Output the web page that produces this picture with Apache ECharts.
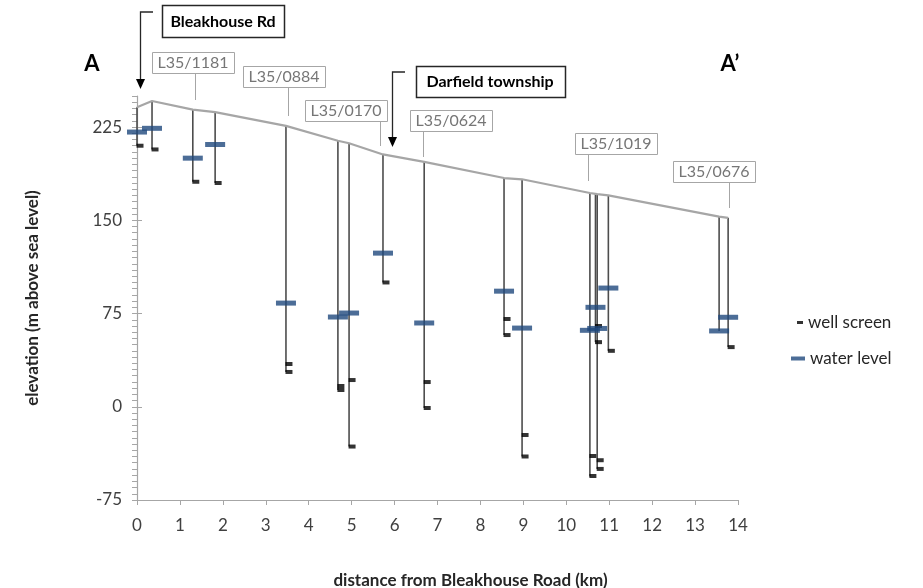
<!DOCTYPE html>
<html>
<head>
<meta charset="utf-8">
<script src="https://cdn.jsdelivr.net/npm/echarts@6/dist/echarts.min.js"></script>
<style>
  html, body { margin: 0; padding: 0; background: #fff; }
  #chart { width: 923px; height: 588px; }
</style>
</head>
<body>
<div id="chart"></div>
<script>
// ground surface along the section (km, m asl)
const surfaceX = [0, 0.35, 1.3, 1.82, 3.47, 4.68, 4.94, 5.73, 6.69, 8.55, 8.97, 10.55, 10.72, 10.98, 13.56, 13.77];
const surfaceElev = [241, 246, 239, 237, 226, 214, 212, 203, 197, 184, 183, 172, 171, 170, 153, 152];

// wells: position, top (ground) and bottom elevation
const wellX = [0, 0.35, 1.3, 1.82, 3.47, 4.68, 4.94, 5.73, 6.69, 8.55, 8.97, 10.55, 10.68, 10.72, 10.98, 13.56, 13.77];
const wellTop = [241, 246, 239, 237, 226, 214, 212, 203, 197, 184, 183, 172, 171, 171, 170, 153, 152];
const wellBottom = [210, 207, 181, 180, 28, 13.5, -32, 100, -1, 57.7, -40, -56, 52, -50, 45, 61, 48];

// water levels
const waterX = [0, 0.35, 1.3, 1.82, 3.47, 4.68, 4.94, 5.73, 6.69, 8.55, 8.97, 10.55, 10.68, 10.72, 10.98, 13.56, 13.77];
const waterElev = [221, 224, 200, 211, 83.4, 72.2, 75.4, 123.6, 67.4, 93, 63.3, 61.5, 80, 63, 95.5, 61, 72];

// well screen marks
const screenX = [0, 0.35, 1.3, 1.82, 3.47, 3.47, 4.68, 4.68, 4.94, 4.94, 5.73, 6.69, 6.69, 8.55, 8.55, 8.97, 8.97, 10.55, 10.55, 10.68, 10.68, 10.72, 10.72, 10.98, 13.77];
const screenElev = [210, 207, 181, 180, 34.4, 28, 16.7, 13.5, 21.5, -32, 100, 19.9, -1, 70.6, 57.7, -22.7, -40, -39.6, -55.7, 65, 52, -43, -50, 45, 48];

// y tick labels shown
const yLabels = [-75, 0, 75, 150, 225];

// well id boxes (pixel layout): text, box x/y, leader x, leader bottom
const wellLabels = [
  ["L35/1181", 152, 52, 195, 100],
  ["L35/0884", 243, 66, 288, 116],
  ["L35/0170", 305, 100, 380, 146],
  ["L35/0624", 410, 110, 423, 157],
  ["L35/1019", 575, 133, 588, 181],
  ["L35/0676", 673, 161, 729, 208],
];

const FONT = "Lato, 'Open Sans', sans-serif";
const AXIS_GRAY = "#a6a6a6";

let chart = echarts.init(document.getElementById("chart"));

let graphics = [];
wellLabels.forEach(function (w) {
  graphics.push({
    type: "rect",
    shape: { x: w[1] + 0.5, y: w[2] + 0.5, width: 82, height: 21 },
    style: { fill: "#fff", stroke: "#a6a6a6", lineWidth: 1 },
  });
  graphics.push({
    type: "text",
    x: w[1] + 41,
    y: w[2] + 11,
    style: { text: w[0], font: "16px " + FONT, fill: "#767676", align: "center", verticalAlign: "middle" },
  });
  graphics.push({
    type: "line",
    shape: { x1: w[3] + 0.5, y1: w[2] + 21, x2: w[3] + 0.5, y2: w[4] },
    style: { stroke: "#a6a6a6", lineWidth: 1 },
  });
});

// place-name boxes with arrows
graphics.push(
  { type: "rect", shape: { x: 162.5, y: 5.5, width: 122, height: 32 }, style: { fill: "#fff", stroke: "#262626", lineWidth: 1.5 } },
  { type: "text", x: 223, y: 22, style: { text: "Bleakhouse Rd", font: "bold 16px " + FONT, fill: "#000", align: "center", verticalAlign: "middle" } },
  { type: "polyline", shape: { points: [[153, 12], [140.5, 12], [140.5, 80]] }, style: { stroke: "#262626", lineWidth: 1.3, fill: null } },
  { type: "polygon", shape: { points: [[136, 79], [145, 79], [140.5, 89]] }, style: { fill: "#000" } },
  { type: "rect", shape: { x: 416.5, y: 66.5, width: 149, height: 31 }, style: { fill: "#fff", stroke: "#262626", lineWidth: 1.5 } },
  { type: "text", x: 490, y: 82, style: { text: "Darfield township", font: "bold 16px " + FONT, fill: "#000", align: "center", verticalAlign: "middle" } },
  { type: "polyline", shape: { points: [[405, 72], [392.5, 72], [392.5, 138]] }, style: { stroke: "#262626", lineWidth: 1.3, fill: null } },
  { type: "polygon", shape: { points: [[388, 137], [397, 137], [392.5, 147]] }, style: { fill: "#000" } },
  { type: "text", x: 92, y: 64, style: { text: "A", font: "bold 22px " + FONT, fill: "#000", align: "center", verticalAlign: "middle" } },
  { type: "text", x: 730, y: 64, style: { text: "A’", font: "bold 22px " + FONT, fill: "#000", align: "center", verticalAlign: "middle" } }
);

let option = {
  backgroundColor: "#fff",
  animation: false,
  textStyle: { fontFamily: FONT },
  grid: { left: 137, right: 185, top: 96, bottom: 88, outerBoundsMode: "none", containLabel: false },
  legend: [
    {
      data: [{ name: "well screen", icon: "rect" }],
      left: 792,
      top: 309,
      itemWidth: 6,
      itemHeight: 3,
      textStyle: { fontSize: 17, color: "#262626" },
    },
    {
      data: [{ name: "water level", icon: "rect" }],
      left: 786,
      top: 345,
      itemWidth: 14,
      itemHeight: 4,
      textStyle: { fontSize: 17, color: "#262626" },
    },
  ],
  xAxis: {
    type: "value",
    min: 0,
    max: 14,
    interval: 1,
    name: "distance from Bleakhouse Road (km)",
    nameLocation: "middle",
    nameGap: 72,
    nameTextStyle: { fontSize: 17, fontWeight: "bold", color: "#262626", padding: [0, 0, 0, 66] },
    axisLine: { show: true, onZero: false, lineStyle: { color: AXIS_GRAY, width: 1.2 } },
    axisTick: { show: true, length: 5, lineStyle: { color: AXIS_GRAY, width: 1 } },
    axisLabel: { fontSize: 17, color: "#404040", margin: 17 },
    splitLine: { show: false },
  },
  yAxis: [
    {
      type: "value",
      min: -75,
      max: 250,
      interval: 5,
      name: "elevation (m above sea level)",
      nameLocation: "middle",
      nameGap: 96,
      nameRotate: 90,
      nameTextStyle: { fontSize: 17, fontWeight: "bold", color: "#262626" },
      axisLine: { show: true, lineStyle: { color: AXIS_GRAY, width: 1.2 } },
      axisTick: { show: true, length: 5, lineStyle: { color: AXIS_GRAY, width: 1 } },
      axisLabel: {
        fontSize: 17,
        color: "#404040",
        margin: 15,
        formatter: function (v) { return yLabels.indexOf(v) >= 0 ? String(v) : ""; },
      },
      splitLine: { show: false },
    },
    {
      type: "value",
      position: "left",
      min: -75,
      max: 250,
      interval: 75,
      axisLine: { show: false },
      axisTick: { show: true, inside: true, length: 5, customValues: yLabels, lineStyle: { color: AXIS_GRAY, width: 1 } },
      axisLabel: { show: false },
      splitLine: { show: false },
    },
  ],
  series: [
    {
      name: "wells",
      type: "custom",
      data: wellX.map(function (x, i) { return [x, wellTop[i], wellBottom[i]]; }),
      encode: { x: 0, y: [1, 2] },
      renderItem: function (params, api) {
        const p1 = api.coord([api.value(0), api.value(1)]);
        const p2 = api.coord([api.value(0), api.value(2)]);
        return {
          type: "line",
          shape: { x1: p1[0], y1: p1[1], x2: p2[0], y2: p2[1] },
          style: { stroke: "#4d4d4d", lineWidth: 1.6 },
        };
      },
      z: 2,
    },
    {
      name: "ground",
      type: "line",
      data: surfaceX.map(function (x, i) { return [x, surfaceElev[i]]; }),
      symbol: "none",
      lineStyle: { color: "#a6a6a6", width: 2.2 },
      z: 3,
    },
    {
      name: "well screen",
      type: "scatter",
      data: screenX.map(function (x, i) { return [x, screenElev[i]]; }),
      symbol: "rect",
      symbolSize: [7, 4],
      symbolOffset: [3, 0],
      itemStyle: { color: "#000" },
      z: 4,
    },
    {
      name: "water level",
      type: "scatter",
      data: waterX.map(function (x, i) { return [x, waterElev[i]]; }),
      symbol: "rect",
      symbolSize: [20, 5],
      itemStyle: { color: "#1f497d" },
      z: 5,
    },
  ],
  graphic: graphics,
};

chart.setOption(option);
</script>
</body>
</html>
